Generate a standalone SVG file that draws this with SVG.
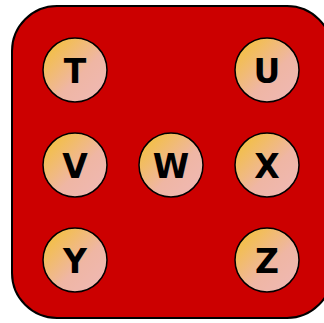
<svg xmlns="http://www.w3.org/2000/svg" width="324" height="323" viewBox="0 0 324 323">
<defs>
<linearGradient id="g" x1="0.1" y1="0.1" x2="0.9" y2="0.9">
<stop offset="0" stop-color="#f3c040"/>
<stop offset="0.6" stop-color="#efb6a4"/>
<stop offset="1" stop-color="#efb8b2"/>
</linearGradient>
<style>
.n circle{fill:url(#g);stroke:#000;stroke-width:1.5}
.n text{font-family:"DejaVu Sans",sans-serif;font-weight:bold;font-size:33px;fill:#000;text-anchor:middle;dominant-baseline:central}
</style>
</defs>
<rect x="12" y="6" width="320" height="312" rx="45" ry="45" fill="#cc0000" stroke="#000" stroke-width="2"/>
<g id="connectors"></g>
<g id="T" class="n"><circle cx="75" cy="70" r="32"/><text x="75" y="71">T</text></g>
<g id="U" class="n"><circle cx="267" cy="70" r="32"/><text x="267" y="71">U</text></g>
<g id="V" class="n"><circle cx="75" cy="165" r="32"/><text x="75" y="166">V</text></g>
<g id="W" class="n"><circle cx="171" cy="165" r="32"/><text x="171" y="166">W</text></g>
<g id="X" class="n"><circle cx="267" cy="165" r="32"/><text x="267" y="166">X</text></g>
<g id="Y" class="n"><circle cx="75" cy="260" r="32"/><text x="75" y="261">Y</text></g>
<g id="Z" class="n"><circle cx="267" cy="260" r="32"/><text x="267" y="261">Z</text></g>
</svg>
